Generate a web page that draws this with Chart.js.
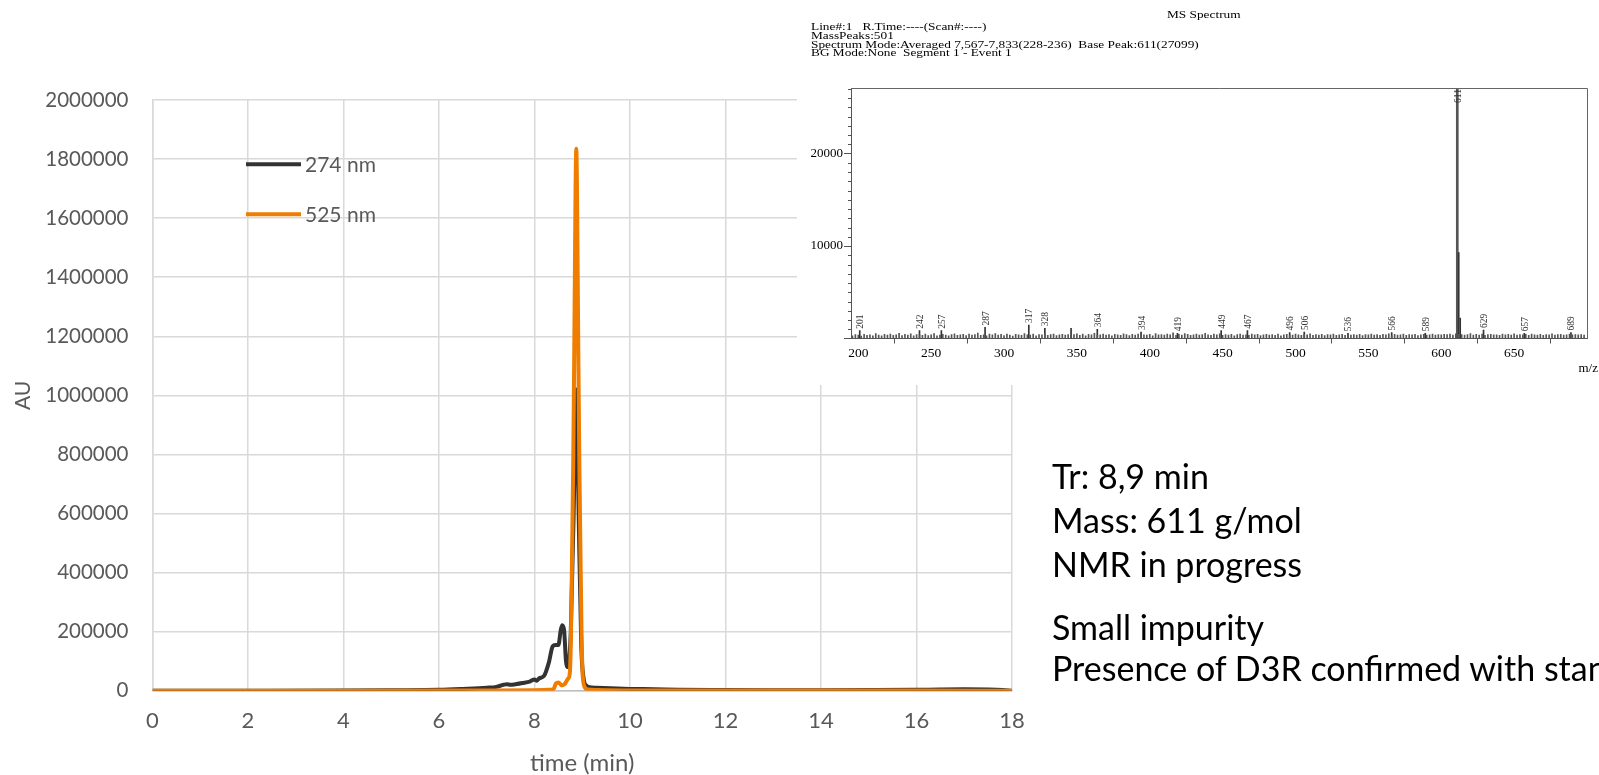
<!DOCTYPE html>
<html><head><meta charset="utf-8">
<script src="https://cdn.jsdelivr.net/npm/chart.js@4.4.1/dist/chart.umd.min.js"></script>
<style>
html,body{margin:0;padding:0;background:#fff;}
#page{position:relative;width:1599px;height:775px;overflow:hidden;background:#fff;}
#mainWrap{position:absolute;left:0;top:0;width:1599px;height:775px;}
#msWrap{position:absolute;left:797px;top:0;width:802px;height:385px;background:#fff;}
.hdr{position:absolute;font-family:"Liberation Serif","Times New Roman",serif;font-size:11px;line-height:11px;color:#000;white-space:pre;transform:scaleX(1.21);transform-origin:0 0;}
.note{position:absolute;left:1052px;font-family:Lato,"Open Sans",sans-serif;font-size:34px;line-height:34px;color:#000;white-space:pre;}
</style></head>
<body><div id="page">
<div id="mainWrap"><canvas id="main" width="1599" height="775"></canvas></div>
<div id="msWrap"><canvas id="ms" width="802" height="385"></canvas>
<div class="hdr" style="left:370px;top:9.2px">MS Spectrum</div>
<div class="hdr" style="left:13.7px;top:20.5px">Line#:1   R.Time:----(Scan#:----)</div>
<div class="hdr" style="left:13.7px;top:29.8px">MassPeaks:501</div>
<div class="hdr" style="left:13.7px;top:38.5px">Spectrum Mode:Averaged 7,567-7,833(228-236)  Base Peak:611(27099)</div>
<div class="hdr" style="left:13.7px;top:47.2px">BG Mode:None  Segment 1 - Event 1</div>
</div>
<div class="note" style="top:459px">Tr: 8,9 min</div>
<div class="note" style="top:503px">Mass: 611 g/mol</div>
<div class="note" style="top:547px">NMR in progress</div>
<div class="note" style="top:610px">Small impurity</div>
<div class="note" style="top:651px">Presence of D3R confirmed with standard</div>
</div>
<script>
// ---------- Chromatogram data ----------
const seriesNames = ['274 nm', '525 nm'];
const time274 = [0,2,4,5,6,6.5,7,7.2,7.35,7.42,7.5,7.6,7.75,7.9,8.0,8.05,8.1,8.2,8.3,8.38,8.44,8.5,8.55,8.58,8.62,8.66,8.7,8.76,8.82,8.86,8.875,8.89,8.93,8.98,9.03,9.08,9.15,9.3,9.6,10,10.5,11,12,13,14,15,16,16.5,17,17.5,17.8,18];
const au274 = [0,0,500,1500,3000,6000,10000,13000,20000,22000,20000,22000,26000,31000,38000,34000,42000,50000,95000,150000,155000,155000,205000,222000,205000,100000,80000,200000,600000,950000,1020000,950000,550000,150000,40000,18000,12000,10000,8000,6000,5000,3000,2000,1500,1500,2000,3000,4000,4500,4000,2500,0];
const time525 = [0,4,6,7,8,8.3,8.4,8.45,8.5,8.57,8.63,8.7,8.74,8.765,8.79,8.812,8.83,8.845,8.86,8.875,8.89,8.905,8.92,8.938,8.96,8.985,9.01,9.06,9.12,9.3,10,12,14,16,18];
const au525 = [0,0,500,1000,1500,3000,6000,25000,28000,18000,22000,40000,60000,200000,500000,790000,1100000,1400000,1700000,1835000,1700000,1400000,1100000,790000,500000,200000,50000,10000,4000,2000,1000,500,500,500,0];
const timeTicks = [0,2,4,6,8,10,12,14,16,18];
const auTicks = [0,200000,400000,600000,800000,1000000,1200000,1400000,1600000,1800000,2000000];

// ---------- MS spectrum data ----------
const msPeakMz  = [201,242,257,287,317,328,346,364,394,419,449,467,496,506,536,566,589,611,612,613,629,657,689];
const msPeakInt = [845,850,850,1200,1450,1100,1100,1000,700,560,850,850,640,700,560,640,560,27099,9300,2200,920,560,640];
const msLabeledMz = [201,242,257,287,317,328,364,394,419,449,467,496,506,536,566,589,611,629,657,689];
const msBasePeakMz = 611;
const msNoiseStartMz = 196;
const msNoiseStepMz = 2;
const msNoiseInt = [
300,420,380,250,460,350,410,300,520,380,290,450,360,480,330,400,560,310,440,370,500,280,430,390,350,
470,320,410,540,300,380,450,360,290,420,510,340,390,460,310,480,370,430,580,350,410,300,470,390,520,
360,440,310,490,380,270,450,400,330,520,410,360,470,300,430,390,550,340,420,480,310,400,460,370,430,
380,420,510,350,470,300,440,390,560,330,410,480,360,420,300,460,390,350,500,420,310,440,380,470,330,
410,370,450,300,520,390,430,360,480,410,600,350,440,380,520,460,340,410,490,370,430,560,400,350,470,
390,510,340,420,380,460,300,430,490,360,410,350,470,390,440,320,400,460,370,420,350,480,300,410,440,
380,360,470,410,330,450,390,500,340,420,370,460,310,430,390,480,350,410,440,330,470,380,420,360,450,
310,430,390,480,360,420,340,460,390,510,300,440,370,410,480,350,430,390,460,320,410,450,370,400,480,
360,420,390,450,430,470,380,500,460,420,380,420,520,380,450,360,490,330,420,460,390,410,350,470,400,
440,380,510,360,420,390,450,330,480,410,370,460,340,430,390,500,360,420,450,380,410,470,390,430,400,
420,380];
const msXTicks = [200,250,300,350,400,450,500,550,600,650,700];
const msYTicks = [0,10000,20000];

// ---------- Main chromatogram ----------
const gray = '#595959';
const lato = 'Lato, "Open Sans", sans-serif';
const legendPlugin = {
  id: 'insideLegend',
  afterDatasetsDraw(chart) {
    const ctx = chart.ctx;
    ctx.save();
    const rows = [164.3, 214.3];
    chart.data.datasets.forEach((ds, i) => {
      ctx.strokeStyle = ds.borderColor;
      ctx.lineWidth = 4;
      ctx.lineCap = 'butt';
      ctx.beginPath();
      ctx.moveTo(246, rows[i]);
      ctx.lineTo(301, rows[i]);
      ctx.stroke();
      ctx.fillStyle = gray;
      ctx.font = '21px ' + lato;
      ctx.textBaseline = 'middle';
      ctx.textAlign = 'left';
      ctx.fillText(ds.label, 305, rows[i] + 1);
    });
    ctx.restore();
  }
};

new Chart(document.getElementById('main'), {
  type: 'line',
  data: {
    datasets: [
      { label: seriesNames[0], data: time274.map((t, i) => ({x: t, y: au274[i]})),
        borderColor: '#333333', borderWidth: 4, pointRadius: 0, cubicInterpolationMode: 'monotone', order: 1 },
      { label: seriesNames[1], data: time525.map((t, i) => ({x: t, y: au525[i]})),
        borderColor: '#EF7D00', borderWidth: 4, pointRadius: 0, cubicInterpolationMode: 'monotone', order: 0 }
    ]
  },
  options: {
    responsive: false, animation: false, devicePixelRatio: 1,
    layout: { padding: { top: 100, right: 587, left: 0, bottom: 0 } },
    plugins: { legend: { display: false }, tooltip: { enabled: false } },
    scales: {
      x: {
        type: 'linear', min: timeTicks[0], max: timeTicks[timeTicks.length - 1],
        afterBuildTicks: s => { s.ticks = timeTicks.map(v => ({value: v})); },
        afterFit: s => { s.height = 84.3; },
        ticks: { color: gray, font: { family: lato, size: 22 }, padding: 17, maxRotation: 0 },
        grid: { color: '#d9d9d9', lineWidth: 1.5, drawTicks: false, tickLength: 0 },
        border: { color: '#bfbfbf', width: 1.5 },
        title: { display: true, text: 'time (min)', color: gray, font: { family: lato, size: 24, lineHeight: 1 }, padding: { top: 0, bottom: 0 } }
      },
      y: {
        type: 'linear', min: auTicks[0], max: auTicks[auTicks.length - 1],
        afterBuildTicks: s => { s.ticks = auTicks.map(v => ({value: v})); },
        afterFit: s => { s.width = 152.5; },
        ticks: { color: gray, font: { family: lato, size: 20.5 }, padding: 24, callback: v => String(v) },
        grid: { color: '#d9d9d9', lineWidth: 1.5, drawTicks: false, tickLength: 0 },
        border: { color: '#d9d9d9', width: 1.5 },
        title: { display: true, text: 'AU', color: gray, font: { family: lato, size: 21 }, padding: { top: 10.5, bottom: 10.5 } }
      }
    }
  },
  plugins: [legendPlugin]
});

// ---------- MS spectrum ----------
const serif = '"Liberation Serif", "Times New Roman", serif';
const msPlugin = {
  id: 'msDecor',
  afterDraw(chart) {
    const ctx = chart.ctx, a = chart.chartArea, xs = chart.scales.x, ys = chart.scales.y;
    ctx.save();
    ctx.strokeStyle = '#666'; ctx.lineWidth = 1;
    ctx.beginPath();
    ctx.moveTo(a.left, a.top + 0.5); ctx.lineTo(a.right + 0.5, a.top + 0.5); ctx.lineTo(a.right + 0.5, a.bottom);
    ctx.stroke();
    ctx.strokeStyle = '#555';
    for (let v = 1000; v < ys.max; v += 1000) {
      if (v % 10000 === 0) continue;
      const y = Math.round(ys.getPixelForValue(v)) + 0.5;
      ctx.beginPath(); ctx.moveTo(a.left - 3, y); ctx.lineTo(a.left, y); ctx.stroke();
    }
    ctx.fillStyle = '#333';
    ctx.font = '9.5px ' + serif;
    ctx.textBaseline = 'middle';
    ctx.textAlign = 'left';
    msLabeledMz.forEach(mz => {
      const idx = msPeakMz.indexOf(mz);
      const x = xs.getPixelForValue(mz) + 1;
      let yTop = ys.getPixelForValue(msPeakInt[idx]) - 2;
      const w = ctx.measureText(String(mz)).width;
      if (yTop - w < a.top + 1) yTop = a.top + 1 + w;
      ctx.save();
      ctx.translate(x, yTop);
      ctx.rotate(-Math.PI / 2);
      ctx.fillText(String(mz), 0, 0);
      ctx.restore();
    });
    ctx.fillStyle = '#000';
    ctx.font = '13px ' + serif;
    ctx.textAlign = 'right';
    ctx.textBaseline = 'middle';
    ctx.fillText('m/z', a.right + 11, 369);
    ctx.restore();
  }
};

const noiseData = msNoiseInt.map((v, i) => ({x: msNoiseStartMz + i * msNoiseStepMz, y: v}));
const peakData = msPeakMz.map((m, i) => ({x: m, y: msPeakInt[i]})).filter(p => p.x !== msBasePeakMz);
const baseData = msPeakMz.map((m, i) => ({x: m, y: msPeakInt[i]})).filter(p => p.x === msBasePeakMz);

new Chart(document.getElementById('ms'), {
  type: 'bar',
  data: {
    datasets: [
      { data: noiseData, backgroundColor: '#555', barThickness: 1, grouped: false, borderWidth: 0 },
      { data: peakData, backgroundColor: '#333', barThickness: 1, grouped: false, borderWidth: 0 },
      { data: baseData, backgroundColor: '#555', barThickness: 2, grouped: false, borderWidth: 0 }
    ]
  },
  options: {
    responsive: false, animation: false, devicePixelRatio: 1,
    layout: { padding: { top: 88, right: 12, left: 0, bottom: 0 } },
    plugins: { legend: { display: false }, tooltip: { enabled: false } },
    scales: {
      x: {
        type: 'linear', min: 195, max: 700, offset: false,
        afterBuildTicks: s => { s.ticks = msXTicks.map(v => ({value: v})); },
        afterFit: s => { s.height = 46.5; },
        ticks: { color: '#000', font: { family: serif, size: 13.5 }, padding: 2, maxRotation: 0,
                 callback: v => (v === 700 ? '' : String(v)) },
        grid: { drawOnChartArea: false, drawTicks: true, tickLength: 5, color: '#555' },
        border: { color: '#555', width: 1 }
      },
      y: {
        type: 'linear', min: 0, max: 27099,
        afterBuildTicks: s => { s.ticks = msYTicks.map(v => ({value: v})); },
        afterFit: s => { s.width = 54; },
        ticks: { color: '#000', font: { family: serif, size: 13 }, padding: 1,
                 callback: v => (v === 0 ? '' : String(v)) },
        grid: { drawOnChartArea: false, drawTicks: true, tickLength: 7, color: '#555' },
        border: { color: '#555', width: 1 }
      }
    }
  },
  plugins: [msPlugin]
});
</script>
</body></html>
